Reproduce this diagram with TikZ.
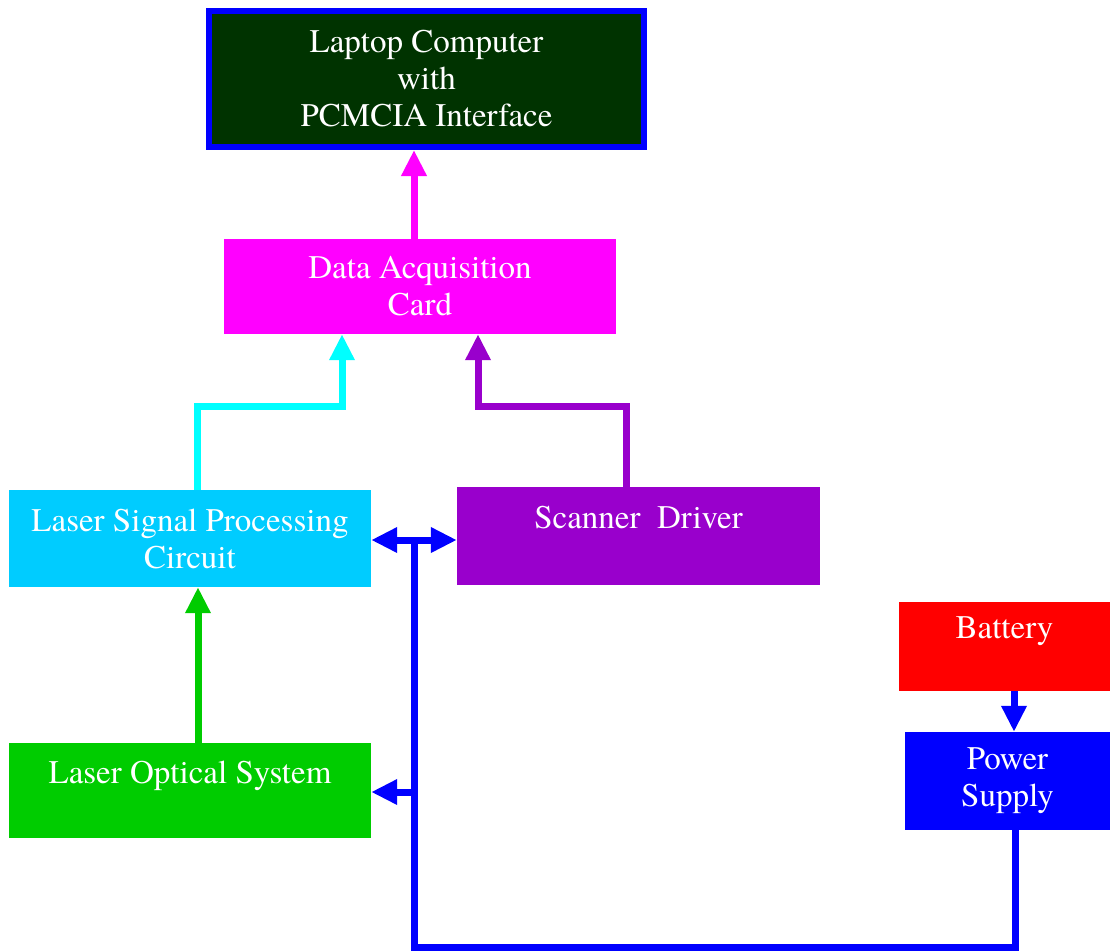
\documentclass[tikz,border=0pt]{standalone}
\usepackage{fontspec}
\setmainfont{texgyretermes-regular.otf}
\usetikzlibrary{positioning,arrows.meta}
\definecolor{darkpc}{HTML}{003300}
\definecolor{daqpink}{HTML}{FF00FF}
\definecolor{lspblue}{HTML}{00CCFF}
\definecolor{lspline}{HTML}{00FFFF}
\definecolor{scanviolet}{HTML}{9900CC}
\definecolor{losgreen}{HTML}{00CC00}
\definecolor{pwrblue}{HTML}{0000FF}
\definecolor{batred}{HTML}{FF0000}

\begin{document}
\begin{tikzpicture}[x=1pt, y=-1pt,
blockbox/.style={rectangle, text=white, align=center, inner sep=0pt, font=\rmfamily\fontsize{33}{37}\selectfont},
laptopbox/.style={blockbox, draw=pwrblue, line width=6pt, fill=darkpc, minimum width=435pt, minimum height=136pt},
wire/.style={line width=7pt, -{Triangle[width=24pt,length=26pt]}},
]
\useasboundingbox (0,0) rectangle (1110,951);
%Nodes
\node[laptopbox]                                                  (laptop)  at (426.5,79)   {Laptop Computer\\with\\PCMCIA Interface};
\node[blockbox, fill=daqpink, minimum width=392pt, minimum height=95pt]    (daq)     at (420,286.5)  {Data Acquisition\\Card};
\node[blockbox, fill=lspblue, minimum width=362pt, minimum height=97pt]    (lsp)     at (190,538.5)  {Laser Signal Processing\\Circuit};
\node[blockbox, fill=scanviolet, minimum width=363pt, minimum height=98pt] (scanner) at (638.5,536)  {Scanner~~Driver\\~};
\node[blockbox, fill=losgreen, minimum width=362pt, minimum height=95pt]   (los)     at (190,790.5)  {Laser Optical System\\~};
\node[blockbox, fill=batred, minimum width=211pt, minimum height=89pt]     (battery) at (1004.5,646.5) {Battery\\~};
\node[blockbox, fill=pwrblue, minimum width=205pt, minimum height=98pt]    (power)   at (1007.5,781) {Power\\Supply};

\coordinate (elbow) at (0,406);
\coordinate (tap)   at (414,540);
\coordinate (tapb)  at (414,792);
\coordinate (bot)   at (414,947);

%Lines
\draw[wire, daqpink] ([xshift=-6pt]daq.north) -- ([xshift=-6pt]daq.north |- laptop.south);
\draw[wire, lspline] ([xshift=7pt]lsp.north) -- ([xshift=7pt]lsp.north |- elbow) -| ([xshift=-78pt]daq.south);
\draw[wire, scanviolet] ([xshift=-12.5pt]scanner.north) -- ([xshift=-12.5pt]scanner.north |- elbow) -| ([xshift=58pt]daq.south);
\draw[wire, losgreen] ([xshift=8pt]los.north) -- ([xshift=8pt]los.north |- lsp.south);
\draw[wire, pwrblue, {Triangle[width=24pt,length=26pt]}-{Triangle[width=24pt,length=26pt]}] (tap -| lsp.east) -- (tap -| scanner.west);
\draw[line width=7pt, pwrblue] ([xshift=7.5pt]power.south) |- (bot) -- (tap);
\draw[wire, pwrblue] (tapb) -- (tapb -| los.east);
\draw[wire, pwrblue] ([xshift=9.5pt]battery.south) -- ([xshift=9.5pt]battery.south |- power.north);
\end{tikzpicture}
\end{document}
